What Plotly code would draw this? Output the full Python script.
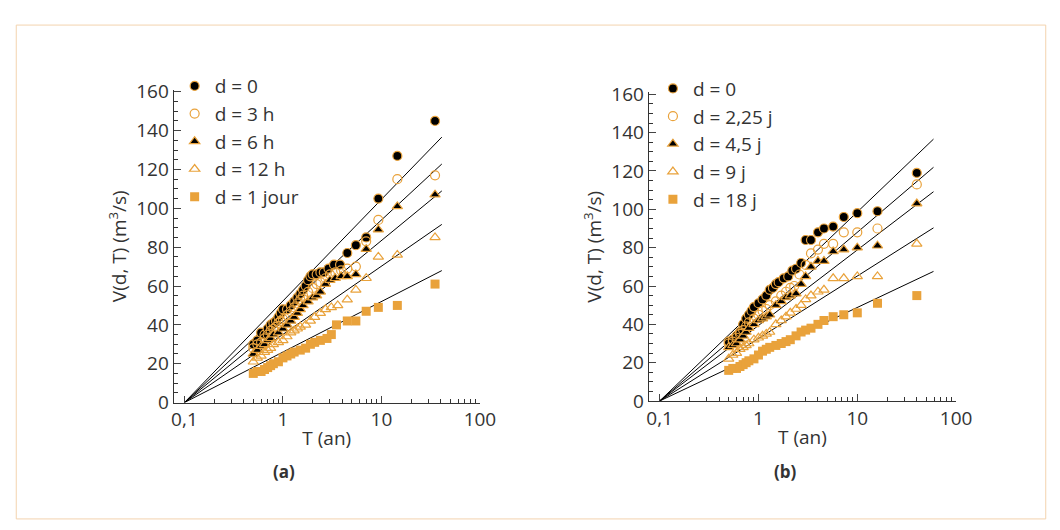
import plotly.graph_objects as go
import numpy as np

OR = "#E9A23B"
# ---- panel (a)
Ta = [0.5,0.55,0.6,0.65,0.7,0.75,0.8,0.85,0.9,0.95,1.0,1.1,1.2,1.3,1.4,1.5,1.6,1.7,1.8,1.9,2.0,2.2,2.4,2.6,2.9,3.3,3.8,4.5,5.5,7,9.3,14.5,35]
a_d0 = [30,32,36,35,38,40,41,42,44,46,48,48,50,52,54,56,58,60,63,65,66,66,67,67,69,71,71,77,81,85,105,127,145]
Ta2 = [0.5,0.55,0.6,0.65,0.7,0.75,0.8,0.85,0.9,0.95,1,1.1,1.2,1.3,1.4,1.5,1.6,1.8,2,2.2,2.4,2.7,3,3.4,3.9,4.5,5.5,7,9.3,14.5,35]
a_d3 = [28,30,31,33,35,37,38,39,41,42,43,45,47,49,51,53,55,57,59,61,62,64,66,67,68,69,70,83,94,115,117]
Ta3 = [0.5,0.55,0.6,0.65,0.7,0.75,0.8,0.9,1,1.1,1.2,1.3,1.4,1.5,1.6,1.8,2,2.2,2.4,2.7,3,3.4,3.9,4.5,5.5,7,9.3,14.5,35]
a_d6 = [25,27,29,30,32,33,35,36,38,40,42,44,46,48,50,52,54,55,57,61,63,64,65,65,66,79,89,101,107]
Ta4 = [0.5,0.55,0.6,0.65,0.7,0.75,0.8,0.9,1,1.1,1.2,1.3,1.4,1.5,1.7,1.9,2.1,2.4,2.7,3.1,3.6,4.5,5.5,7,9.3,14.5,35]
a_d12 = [21,23,24,26,27,28,30,31,32,34,36,37,38,39,40,42,44,46,48,49,50,53,58,64,75,76,85]
Ta5 = [0.5,0.55,0.6,0.65,0.7,0.75,0.8,0.9,1,1.1,1.2,1.3,1.5,1.7,1.9,2.1,2.4,2.8,3.1,3.5,4.5,5.5,7,9.3,14.5,35]
a_d24 = [15,16,16,17,18,19,20,21,23,24,25,26,27,28,30,31,32,33,35,40,42,42,47,49,50,61]
a_slopes = [52.3,47.0,41.7,35.1,26.0]
a_names = ["d = 0","d = 3 h","d = 6 h","d = 12 h","d = 1 jour"]

# ---- panel (b)
Tb = [0.5,0.55,0.6,0.65,0.7,0.75,0.8,0.85,0.9,1.0,1.1,1.2,1.3,1.4,1.5,1.6,1.8,2.0,2.2,2.4,2.7,3,3.4,4,4.6,5.7,7.3,10,16,40]
b_d0 = [31,32,34,36,40,43,45,47,49,51,53,55,58,59,61,62,64,65,68,69,72,84,84,88,90,91,96,98,99,119]
Tb2 = [0.5,0.55,0.6,0.65,0.7,0.75,0.8,0.9,1,1.1,1.2,1.3,1.5,1.7,1.9,2.1,2.3,2.6,3,3.4,4,4.6,5.7,7.3,10,16,40]
b_d225 = [30,31,33,35,37,39,41,43,45,47,48,50,52,55,57,59,60,66,71,77,79,82,82,88,88,90,113]
Tb3 = [0.5,0.55,0.6,0.65,0.7,0.75,0.8,0.9,1,1.1,1.2,1.3,1.5,1.7,1.9,2.1,2.4,2.7,3,3.4,4,4.6,5.7,7.3,10,16,40]
b_d45 = [28,29,30,32,34,36,38,40,42,43,44,45,50,52,54,55,56,61,65,70,73,73,78,79,80,81,103]
b_d9 = [22,24,25,27,28,29,30,32,33,34,35,36,40,42,44,46,48,50,53,55,57,58,64,64,65,65,82]
b_d18 = [16,17,17,18,19,20,21,22,24,26,27,28,29,30,31,32,34,36,37,38,40,42,44,45,46,51,55]
b_slopes = [49.3,44.0,39.4,32.6,24.4]
b_names = ["d = 0","d = 2,25 j","d = 4,5 j","d = 9 j","d = 18 j"]

x_ticks = [0.1, 1, 10, 100]
x_ticktext = ["0,1", "1", "10", "100"]
x_minor = [0.2,0.3,0.4,0.5,0.6,0.7,0.8,0.9,2,3,4,5,6,7,8,9,20,30,40,50,60,70,80,90]
y_ticks = [0,20,40,60,80,100,120,140,160]

styles = [
    dict(symbol="circle", color="black", line=dict(color=OR, width=1.2), size=9),
    dict(symbol="circle-open", color=OR, line=dict(color=OR, width=1.2), size=9),
    dict(symbol="triangle-up", color="black", line=dict(color=OR, width=1.2), size=9),
    dict(symbol="triangle-up-open", color=OR, line=dict(color=OR, width=1.2), size=9),
    dict(symbol="square", color=OR, line=dict(color=OR, width=0), size=9),
]

fig = go.Figure()
panels = [
    ("x", "y", "legend", [(Ta,a_d0),(Ta2,a_d3),(Ta3,a_d6),(Ta4,a_d12),(Ta5,a_d24)], a_slopes, a_names, 41),
    ("x2", "y2", "legend2", [(Tb,b_d0),(Tb2,b_d225),(Tb3,b_d45),(Tb3,b_d9),(Tb3,b_d18)], b_slopes, b_names, 59),
]
for xa, ya, lg, series, slopes, names, tend in panels:
    tl = np.array([0.1, tend])
    for s in slopes:
        fig.add_trace(go.Scatter(x=tl, y=s*np.log10(tl/0.1), mode="lines", xaxis=xa, yaxis=ya,
                                 line=dict(color="black", width=1), showlegend=False, cliponaxis=False))
    for (t, v), st, nm in zip(series, styles, names):
        fig.add_trace(go.Scatter(x=t, y=v, mode="markers", name=nm, xaxis=xa, yaxis=ya, legend=lg,
                                 marker=st, cliponaxis=False))

font = dict(family="Open Sans", size=19, color="#333")
xcommon = dict(type="log", range=[-1.11, 2.0], tickvals=x_ticks, ticktext=x_ticktext,
               ticks="inside", ticklen=7, showline=True, linecolor="#333", linewidth=1, showgrid=False,
               zeroline=False, tickfont=font, title=dict(text="T (an)", font=font, standoff=0),
               minor=dict(ticks="inside", ticklen=4, tickcolor="#333", tickvals=x_minor, showgrid=False))
ycommon = dict(range=[0, 161], tickvals=y_ticks, ticks="inside", ticklen=7,
               showline=True, linecolor="#333", linewidth=1, showgrid=False, zeroline=False, tickfont=font,
               title=dict(text="V(d, T) (m<sup>3</sup>/s)", font=font, standoff=4),
               minor=dict(ticks="inside", ticklen=4, tickcolor="#333", dtick=5, showgrid=False))
lgd = dict(font=dict(family="Open Sans", size=19, color="#333"), bgcolor="rgba(0,0,0,0)",
           tracegroupgap=0, itemsizing="trace", yanchor="top", xanchor="left", itemwidth=30)
fig.update_layout(
    width=1060, height=530, paper_bgcolor="white", plot_bgcolor="white",
    margin=dict(l=0, r=0, t=0, b=0), showlegend=True,
    xaxis=dict(domain=[0.157, 0.451], anchor="y", **xcommon),
    yaxis=dict(domain=[0.242, 0.86], anchor="x", **ycommon),
    xaxis2=dict(domain=[0.613, 0.908], anchor="y2", **xcommon),
    yaxis2=dict(domain=[0.245, 0.855], anchor="x2", **ycommon),
    legend=dict(x=0.158, y=0.905, **lgd),
    legend2=dict(x=0.617, y=0.9, **lgd),
    shapes=[dict(type="rect", xref="paper", yref="paper", x0=0.006, x1=0.994, y0=0.012, y1=0.988,
                 line=dict(color="#F3D3AE", width=1))],
    annotations=[
        dict(text="<b>(a)</b>", x=0.25, y=0.08, xref="paper", yref="paper", showarrow=False,
             font=dict(family="Open Sans", size=17, color="#333")),
        dict(text="<b>(b)</b>", x=0.757, y=0.08, xref="paper", yref="paper", showarrow=False,
             font=dict(family="Open Sans", size=17, color="#333")),
    ],
)
fig.write_html("out.html")
